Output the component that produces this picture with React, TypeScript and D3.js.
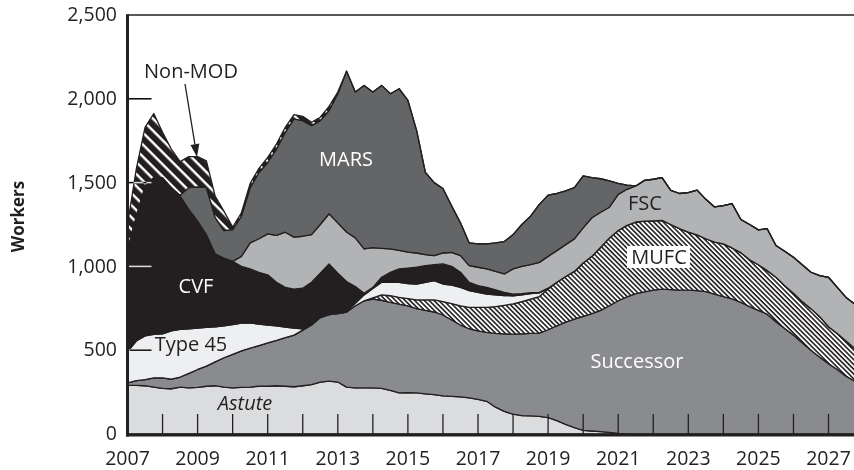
import React from "react";
import * as d3 from "d3";

// quarterly data, 2007 Q1 .. 2027 Q4
const startYear = 2007;
const quarterStep = 0.25;

const astute = [
  290, 290, 288, 280, 272, 270, 280, 275, 278, 285, 288, 280,
  275, 278, 280, 285, 285, 288, 285, 282, 288, 295, 310, 315,
  310, 280, 275, 275, 275, 272, 260, 245, 247, 245, 240, 235,
  228, 225, 222, 215, 207, 195, 160, 135, 118, 110, 108, 105,
  98, 80, 58, 38, 22, 18, 14, 10, 3, 0, 0, 0,
  0, 0, 0, 0, 0, 0, 0, 0, 0, 0, 0, 0,
  0, 0, 0, 0, 0, 0, 0, 0, 0, 0, 0, 0,
];
const successor = [
  15, 28, 37, 55, 63, 58, 60, 87, 107, 120, 142, 175,
  200, 218, 232, 243, 258, 270, 290, 308, 332, 355, 385, 397,
  408, 448, 490, 520, 530, 526, 525, 530, 518, 503, 498, 493,
  482, 455, 428, 413, 408, 411, 440, 463, 478, 488, 492, 497,
  524, 565, 610, 647, 680, 700, 724, 755, 792, 818, 838, 848,
  858, 865, 862, 858, 858, 855, 850, 835, 820, 806, 785, 760,
  738, 715, 670, 630, 590, 545, 500, 458, 420, 385, 345, 315,
];
const mufc = [
  0, 0, 0, 0, 0, 0, 0, 0, 0, 0, 0, 0,
  0, 0, 0, 0, 0, 0, 0, 0, 0, 0, 0, 0,
  0, 0, 0, 0, 7, 32, 40, 40, 43, 52, 62, 72,
  80, 98, 115, 127, 140, 149, 160, 170, 180, 192, 205, 218,
  243, 260, 272, 285, 318, 342, 376, 405, 419, 427, 427, 422,
  414, 410, 388, 367, 347, 333, 315, 310, 314, 304, 297, 280,
  272, 260, 265, 255, 250, 245, 248, 242, 220, 215, 210, 195,
];
const type45 = [
  185, 237, 260, 260, 263, 287, 285, 266, 247, 231, 210, 191,
  177, 166, 150, 128, 107, 87, 63, 42, 8, 5, 5, 6,
  6, 6, 15, 35, 56, 75, 80, 90, 90, 95, 105, 115,
  105, 110, 110, 100, 90, 80, 70, 58, 49, 40, 33, 22,
  5, 0, 0, 0, 0, 0, 0, 0, 0, 0, 0, 0,
  0, 0, 0, 0, 0, 0, 0, 0, 0, 0, 0, 0,
  0, 0, 0, 0, 0, 0, 0, 0, 0, 0, 0, 0,
];
const cvf = [
  610, 745, 895, 935, 932, 855, 795, 712, 638, 554, 435, 404,
  378, 338, 323, 309, 300, 260, 237, 233, 242, 250, 260, 297,
  236, 176, 100, 10, 7, 30, 60, 80, 92, 100, 100, 95,
  120, 112, 90, 50, 40, 40, 30, 19, 10, 8, 5, 3,
  0, 0, 0, 0, 0, 0, 0, 0, 0, 0, 0, 0,
  0, 0, 0, 0, 0, 0, 0, 0, 0, 0, 0, 0,
  0, 0, 0, 0, 0, 0, 0, 0, 0, 0, 0, 0,
];
const fsc = [
  0, 0, 0, 0, 0, 0, 0, 0, 0, 0, 0, 0,
  0, 60, 155, 200, 244, 280, 329, 310, 310, 285, 290, 299,
  300, 295, 290, 264, 237, 173, 139, 110, 95, 85, 65, 54,
  65, 84, 99, 100, 110, 110, 110, 110, 150, 162, 167, 179,
  190, 189, 190, 194, 210, 230, 209, 183, 216, 215, 215, 243,
  248, 255, 203, 210, 235, 267, 235, 210, 228, 264, 198, 210,
  208, 250, 190, 205, 215, 220, 217, 245, 295, 275, 260, 265,
];
const mars = [
  0, 0, 0, 0, 0, 0, 5, 130, 205, 280, 218, 164,
  190, 240, 330, 395, 426, 515, 596, 705, 690, 650, 620, 616,
  770, 960, 870, 976, 928, 972, 926, 965, 905, 730, 490, 436,
  385, 276, 196, 135, 140, 149, 170, 193, 205, 250, 290, 346,
  365, 341, 320, 306, 310, 240, 200, 157, 65, 25, 0, 0,
  0, 0, 0, 0, 0, 0, 0, 0, 0, 0, 0, 0,
  0, 0, 0, 0, 0, 0, 0, 0, 0, 0, 0, 0,
];
const nonMod = [
  150, 280, 350, 382, 270, 230, 200, 185, 180, 160, 127, 116,
  15, 20, 25, 25, 30, 30, 30, 25, 25, 20, 20, 25,
  10, 0, 0, 0, 0, 0, 0, 0, 0, 0, 0, 0,
  0, 0, 0, 0, 0, 0, 0, 0, 0, 0, 0, 0,
  0, 0, 0, 0, 0, 0, 0, 0, 0, 0, 0, 0,
  0, 0, 0, 0, 0, 0, 0, 0, 0, 0, 0, 0,
  0, 0, 0, 0, 0, 0, 0, 0, 0, 0, 0, 0,
];

const seriesKeys = ["astute", "successor", "mufc", "type45", "cvf", "fsc", "mars", "nonMod"];
const seriesFill = {
  astute: "#dbdcde",
  successor: "#8a8b8e",
  mufc: "url(#hatchMufc)",
  type45: "#eeeff0",
  cvf: "#231f20",
  fsc: "#b2b3b5",
  mars: "#646567",
  nonMod: "url(#hatchNonMod)",
};

const yTickValues = [0, 500, 1000, 1500, 2000, 2500];
const yearLabels = [2007, 2009, 2011, 2013, 2015, 2017, 2019, 2021, 2023, 2025, 2027];
const yearTicks = [2008, 2009, 2010, 2011, 2012, 2013, 2014, 2015, 2016, 2017, 2018, 2019, 2020, 2021, 2022, 2023, 2024, 2025, 2026, 2027];

const ink = "#231f20";
const font = "'Open Sans', 'Noto Sans', sans-serif";

export default function App() {
  const width = 854;
  const height = 470;

  const x = d3.scaleLinear().domain([2007, 2027.75]).range([127.5, 854.8]);
  const y = d3.scaleLinear().domain([0, 2500]).range([434, 15]);

  const rows = astute.map((_, i) => ({
    t: startYear + i * quarterStep,
    astute: astute[i],
    successor: successor[i],
    mufc: mufc[i],
    type45: type45[i],
    cvf: cvf[i],
    fsc: fsc[i],
    mars: mars[i],
    nonMod: nonMod[i],
  }));

  const stacked = d3.stack().keys(seriesKeys)(rows as any);

  const area = d3
    .area<any>()
    .x((d) => x(d.data.t))
    .y0((d) => y(d[0]))
    .y1((d) => y(d[1]));

  // Non-MOD arrow
  const from = [185, 84];
  const tip = [197, 157];
  const len = Math.hypot(tip[0] - from[0], tip[1] - from[1]);
  const ux = (tip[0] - from[0]) / len;
  const uy = (tip[1] - from[1]) / len;
  const headLen = 13;
  const headW = 4.5;
  const bx = tip[0] - ux * headLen;
  const by = tip[1] - uy * headLen;
  const head = [
    [tip[0], tip[1]],
    [bx - uy * headW, by + ux * headW],
    [bx + uy * headW, by - ux * headW],
  ];

  const left = x(2007);
  const right = width;

  return (
    <svg
      width={width}
      height={height}
      style={{ position: "absolute", left: 0, top: 0, background: "#fff" }}
      fontFamily={font}
    >
      <defs>
        <pattern id="hatchMufc" width="4" height="3.4" patternUnits="userSpaceOnUse" patternTransform="rotate(45)">
          <rect width="4" height="3.4" fill="#fff" />
          <rect width="4" height="1.6" fill={ink} />
        </pattern>
        <pattern id="hatchNonMod" width="4" height="8.5" patternUnits="userSpaceOnUse" patternTransform="rotate(45)">
          <rect width="4" height="8.5" fill={ink} />
          <rect width="4" height="2.4" fill="#fff" />
        </pattern>
      </defs>

      <rect width={width} height={height} fill="#fff" />

      {/* stacked areas */}
      <g>
        {stacked.map((s) => (
          <path
            key={s.key}
            d={area(s) || ""}
            fill={seriesFill[s.key]}
            stroke={ink}
            strokeWidth={1.3}
            strokeLinejoin="round"
          />
        ))}
      </g>

      {/* x ticks (inside) */}
      <g>
        {yearTicks.map((yr) => (
          <line key={yr} x1={x(yr)} x2={x(yr)} y1={434} y2={414} stroke={ink} strokeWidth={1.3} />
        ))}
      </g>

      {/* y ticks (inside), inverted over dark fills */}
      <g style={{ mixBlendMode: "difference" }}>
        {yTickValues.slice(1, -1).map((v) => (
          <line key={v} x1={left} x2={left + 24} y1={y(v)} y2={y(v)} stroke="#fff" strokeWidth={1.5} />
        ))}
      </g>

      {/* frame */}
      <line x1={left} x2={right} y1={y(2500)} y2={y(2500)} stroke={ink} strokeWidth={1.5} />
      <line x1={left} x2={left} y1={y(2500) - 0.75} y2={436.5} stroke={ink} strokeWidth={3} />
      <line x1={left - 1.5} x2={right} y1={435} y2={435} stroke={ink} strokeWidth={3} />

      {/* tick labels */}
      <g fontSize={19.5} fill={ink}>
        {yTickValues.map((v) => (
          <text key={v} x={117} y={y(v) + 1} textAnchor="end" dominantBaseline="middle">
            {d3.format(",")(v)}
          </text>
        ))}
        {yearLabels.map((yr) => (
          <text key={yr} x={x(yr)} y={465} textAnchor="middle">
            {yr}
          </text>
        ))}
      </g>

      <text
        transform="translate(24,216.5) rotate(-90)"
        textAnchor="middle"
        fontSize={17}
        fontWeight="bold"
        fill={ink}
      >
        Workers
      </text>

      {/* series labels */}
      <g fontSize={20}>
        <text x={191} y={78} textAnchor="middle" fill={ink}>Non-MOD</text>
        <text x={346} y={166} textAnchor="middle" fill="#fff">MARS</text>
        <text x={645} y={210} textAnchor="middle" fill={ink}>FSC</text>
        <rect x={627} y={246} width={63} height={22} fill="#fff" />
        <text x={659} y={264} textAnchor="middle" fill={ink}>MUFC</text>
        <text x={196} y={293} textAnchor="middle" fill="#fff">CVF</text>
        <text x={191} y={351} textAnchor="middle" fill={ink}>Type 45</text>
        <text x={245} y={410} textAnchor="middle" fill={ink} fontStyle="italic">Astute</text>
        <text x={637} y={368} textAnchor="middle" fill="#fff">Successor</text>
      </g>

      {/* Non-MOD pointer */}
      <line x1={from[0]} y1={from[1]} x2={bx} y2={by} stroke={ink} strokeWidth={1.3} />
      <polygon points={head.map((p) => p.join(",")).join(" ")} fill={ink} />
    </svg>
  );
}
